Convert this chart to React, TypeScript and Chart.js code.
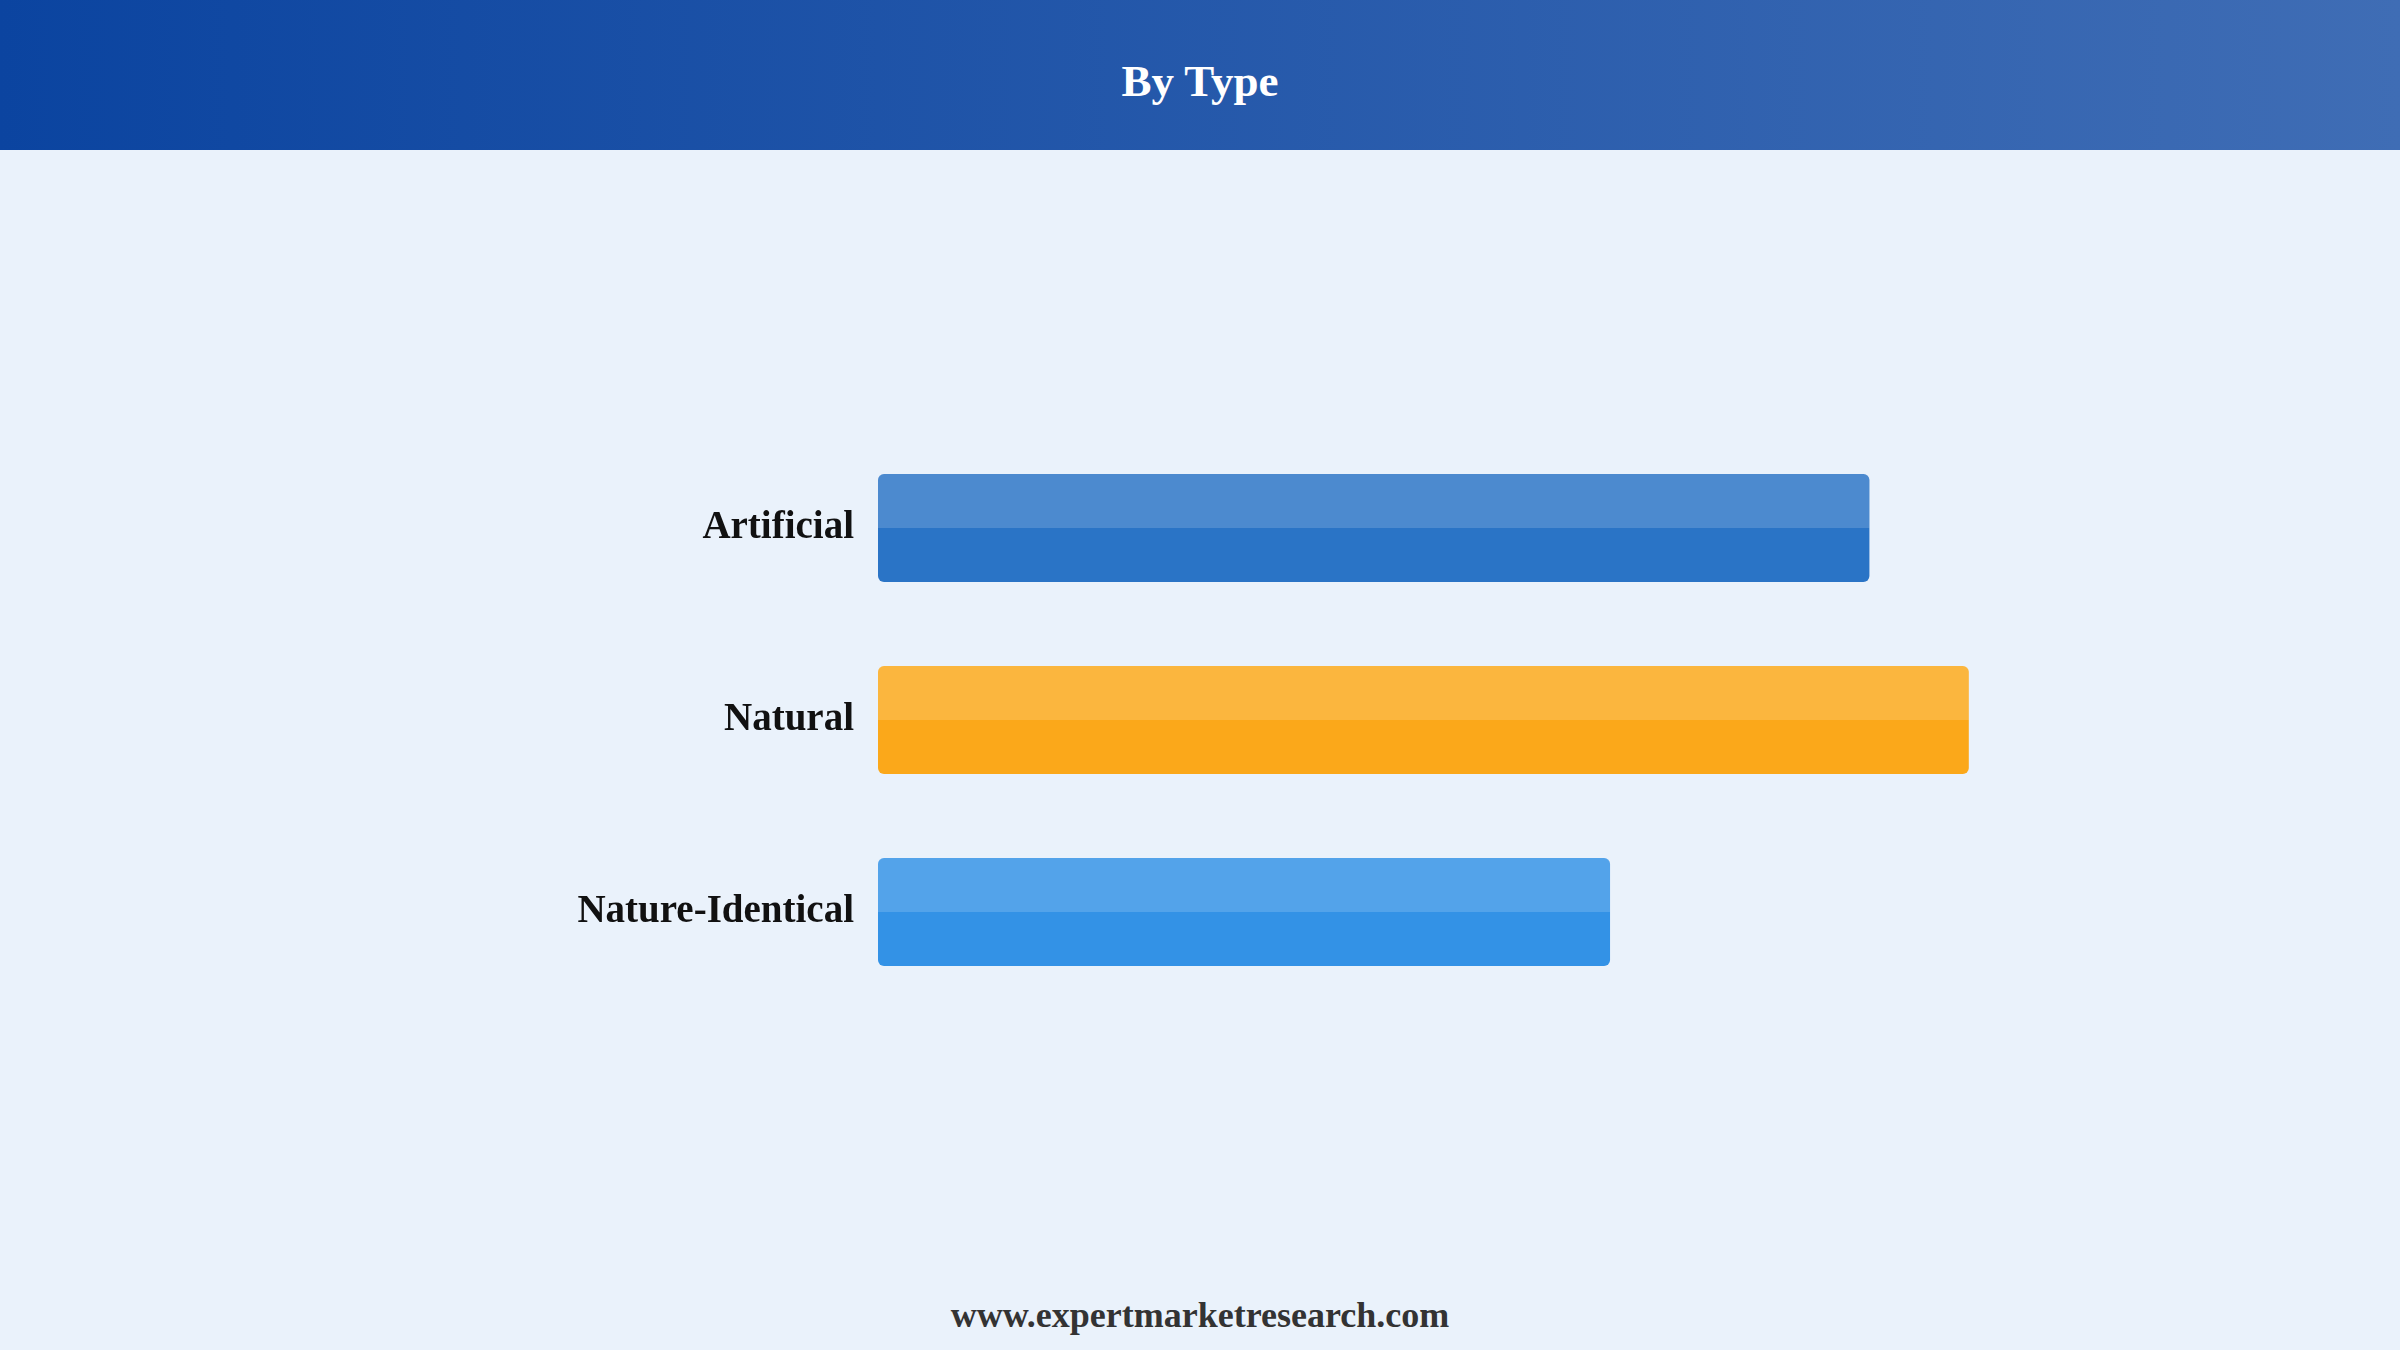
import React, { useEffect, useRef } from "react";
import { Chart, registerables } from "chart.js";

Chart.register(...registerables);

const categories = ["Artificial", "Natural", "Nature-Identical"];
const values = [40.9, 45.0, 30.2];
const barColors = ["#2A74C6", "#FBA81A", "#3392E6"];
const axisMax = 50;
const titleText = "By Type";
const footerText = "www.expertmarketresearch.com";

const highlightPlugin = {
  id: "topHighlight",
  afterDatasetsDraw(chart: any) {
    const ctx = chart.ctx;
    const meta = chart.getDatasetMeta(0);
    meta.data.forEach((bar: any) => {
      const { x, y, base, height } = bar.getProps(["x", "y", "base", "height"], true);
      const left = Math.min(x, base);
      const right = Math.max(x, base);
      const top = y - height / 2;
      const r = 6;
      const h = height / 2;
      ctx.save();
      ctx.fillStyle = "rgba(255,255,255,0.16)";
      ctx.beginPath();
      ctx.moveTo(left + r, top);
      ctx.lineTo(right - r, top);
      ctx.quadraticCurveTo(right, top, right, top + r);
      ctx.lineTo(right, top + h);
      ctx.lineTo(left, top + h);
      ctx.lineTo(left, top + r);
      ctx.quadraticCurveTo(left, top, left + r, top);
      ctx.closePath();
      ctx.fill();
      ctx.restore();
    });
  },
};

export default function App() {
  const ref = useRef<HTMLCanvasElement | null>(null);
  useEffect(() => {
    if (!ref.current) return;
    const chart = new Chart(ref.current, {
      type: "bar",
      data: {
        labels: categories,
        datasets: [
          {
            data: values,
            backgroundColor: barColors,
            borderRadius: 6,
            borderSkipped: false,
            barPercentage: 0.5625,
            categoryPercentage: 1,
          },
        ],
      },
      options: {
        indexAxis: "y",
        animation: false,
        responsive: false,
        maintainAspectRatio: false,
        layout: { padding: { top: 282, bottom: 242, left: 0, right: 310 } },
        plugins: { legend: { display: false }, tooltip: { enabled: false }, title: { display: false } },
        scales: {
          x: { display: false, min: 0, max: axisMax },
          y: {
            grid: { display: false, drawTicks: false, tickLength: 0 },
            border: { display: false },
            ticks: {
              padding: 24,
              color: "#111111",
              font: { family: "'Liberation Serif', 'Times New Roman', serif", size: 39, weight: "bold" },
            },
            afterFit: (scale: any) => {
              scale.width = 878;
            },
          },
        },
      },
      plugins: [highlightPlugin],
    });
    return () => chart.destroy();
  }, []);

  return (
    <div
      style={{
        position: "fixed",
        left: 0,
        top: 0,
        width: 2400,
        height: 1350,
        background: "#EAF2FB",
        overflow: "hidden",
      }}
    >
      <div
        style={{
          position: "absolute",
          left: 0,
          top: 0,
          width: 2400,
          height: 150,
          background: "linear-gradient(to right, #0B44A0, #3F6DB5)",
          display: "flex",
          alignItems: "center",
          justifyContent: "center",
        }}
      >
        <span
          style={{
            color: "#FFFFFF",
            fontFamily: "'Liberation Serif', 'Times New Roman', serif",
            fontWeight: "bold",
            fontSize: 45,
            lineHeight: "46px",
            marginTop: 12,
          }}
        >
          {titleText}
        </span>
      </div>
      <canvas
        ref={ref}
        width={2400}
        height={1100}
        style={{ position: "absolute", left: 0, top: 150, width: 2400, height: 1100 }}
      />
      <div
        style={{
          position: "absolute",
          left: 0,
          top: 1292,
          width: 2400,
          textAlign: "center",
          color: "#333333",
          fontFamily: "'Liberation Serif', 'Times New Roman', serif",
          fontWeight: "bold",
          fontSize: 36,
          lineHeight: "46px",
        }}
      >
        {footerText}
      </div>
    </div>
  );
}
